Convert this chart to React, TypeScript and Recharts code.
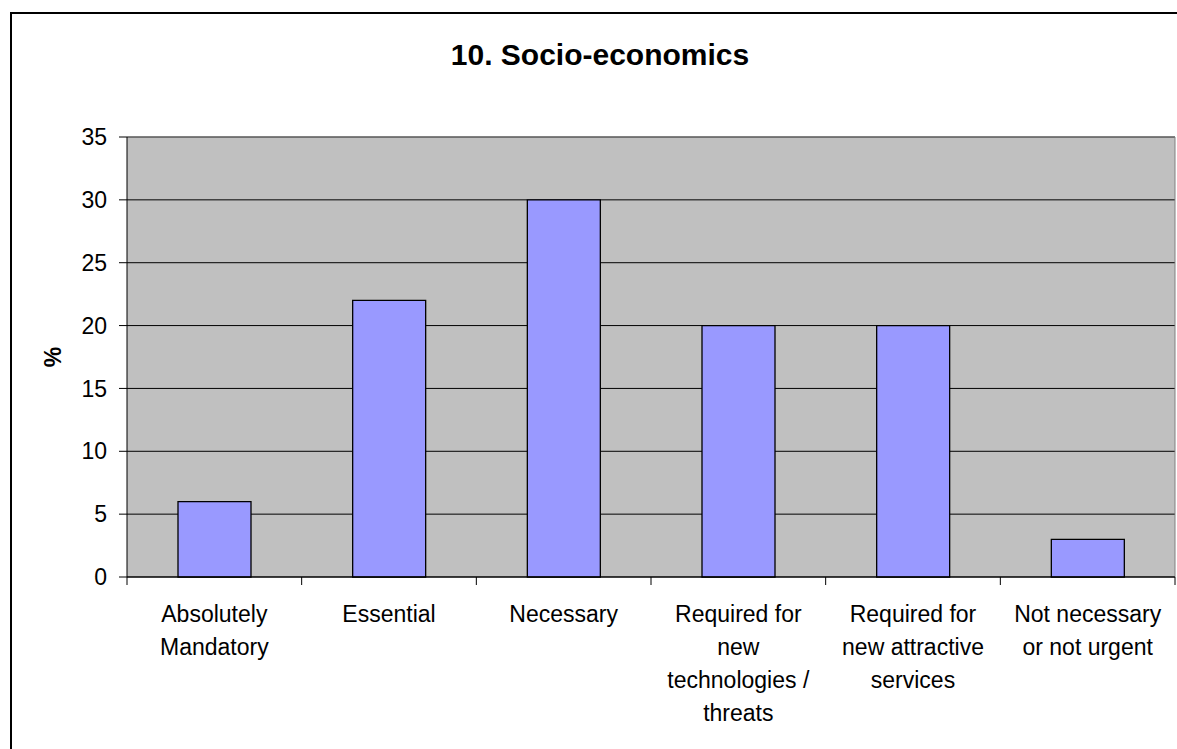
import { BarChart, Bar, XAxis, YAxis, CartesianGrid, ReferenceLine } from "recharts"

const categories = [
  "Absolutely Mandatory",
  "Essential",
  "Necessary",
  "Required for new technologies / threats",
  "Required for new attractive services",
  "Not necessary or not urgent",
]

const tickLines = [
  ["Absolutely", "Mandatory"],
  ["Essential"],
  ["Necessary"],
  ["Required for", "new", "technologies /", "threats"],
  ["Required for", "new attractive", "services"],
  ["Not necessary", "or not urgent"],
]

const percent = [6, 22, 30, 20, 20, 3]

const yTicks = [0, 5, 10, 15, 20, 25, 30, 35]

const data = categories.map((name, i) => ({ name, value: percent[i] }))

const font = "'Liberation Sans', Arial, sans-serif"

// category labels, plus the small marks between categories
function CategoryTick(props: any) {
  const { x, y, index, width, visibleTicksCount } = props
  const band = width / visibleTicksCount
  const lines = tickLines[index] || [props.payload.value]
  const left = x - band / 2
  const right = x + band / 2
  return (
    <g>
      <line x1={left} y1={y} x2={left} y2={y + 8} stroke="#000" />
      {index === visibleTicksCount - 1 && <line x1={right} y1={y} x2={right} y2={y + 8} stroke="#000" />}
      <text x={x} y={y} textAnchor="middle" fill="#000" fontSize={23} fontFamily={font}>
        {lines.map((line, i) => (
          <tspan key={i} x={x} dy={i === 0 ? 45 : 33}>
            {line}
          </tspan>
        ))}
      </text>
    </g>
  )
}

function PercentLabel(props: any) {
  const { viewBox } = props
  const cx = viewBox.x + 53
  const cy = viewBox.y + viewBox.height / 2
  return (
    <text
      x={cx}
      y={cy}
      transform={`rotate(-90, ${cx}, ${cy})`}
      textAnchor="middle"
      dominantBaseline="central"
      fontSize={23}
      fontWeight="bold"
      fontFamily={font}
      fill="#000"
    >
      %
    </text>
  )
}

export default function App() {
  return (
    <div
      style={{
        position: "fixed",
        left: 0,
        top: 0,
        width: 1177,
        height: 749,
        overflow: "hidden",
        background: "#fff",
      }}
    >
      <div
        style={{
          position: "absolute",
          left: 10,
          top: 12,
          width: 1300,
          height: 900,
          border: "2px solid #000",
        }}
      />
      <div
        style={{
          position: "absolute",
          left: 0,
          width: 1200,
          top: 40,
          lineHeight: "30px",
          textAlign: "center",
          fontFamily: font,
          fontWeight: "bold",
          fontSize: 30,
          color: "#000",
        }}
      >
        10. Socio-economics
      </div>
      <div style={{ position: "absolute", left: 0, top: 0 }}>
        <BarChart
          width={1177}
          height={749}
          data={data}
          margin={{ top: 137, right: 2, bottom: 0, left: 0 }}
        >
          <CartesianGrid
            vertical={false}
            stroke="#000"
            strokeWidth={1}
            fill="#C0C0C0"
            fillOpacity={1}
          />
          <XAxis
            dataKey="name"
            height={172}
            axisLine={{ stroke: "#000" }}
            tickLine={false}
            tickSize={0}
            tickMargin={0}
            interval={0}
            tick={<CategoryTick />}
          />
          <YAxis
            width={127}
            domain={[0, 35]}
            ticks={yTicks}
            interval={0}
            tickSize={8}
            tickMargin={12}
            axisLine={{ stroke: "#000" }}
            tickLine={{ stroke: "#000" }}
            tick={{ fill: "#000", fontSize: 23, fontFamily: font }}
            label={<PercentLabel />}
          />
          <ReferenceLine y={35} stroke="#808080" />
          <ReferenceLine x={categories[categories.length - 1]} position="end" stroke="#808080" />
          <Bar
            dataKey="value"
            fill="#9999FF"
            stroke="#000"
            strokeWidth={1.3}
            barSize={73}
            isAnimationActive={false}
          />
        </BarChart>
      </div>
    </div>
  )
}
